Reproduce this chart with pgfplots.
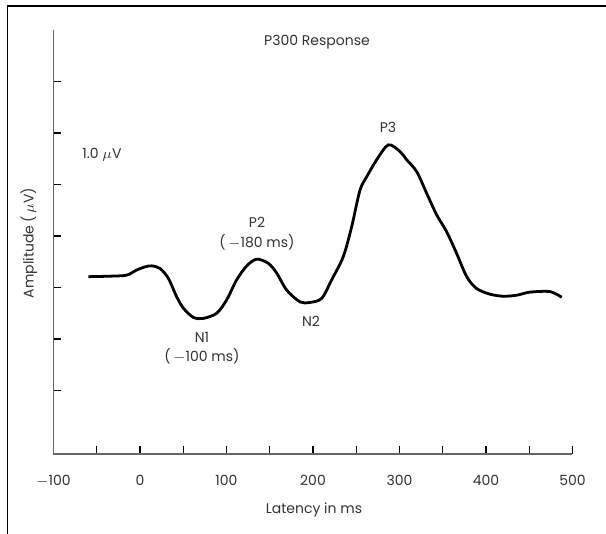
\documentclass[border=0pt]{standalone}
\usepackage{pgfplots}
\pgfplotsset{compat=1.18}
\usepackage{fontspec}
\setmainfont{Poppins}
\definecolor{txt}{HTML}{333333}
\definecolor{axgray}{HTML}{666666}

\begin{document}
\begin{tikzpicture}[font=\fontsize{7}{8}\selectfont]
\useasboundingbox (0,0) rectangle (303pt,267pt);
% frame (left and top only)
\draw[line width=0.7pt,black] (3.6pt,0) -- (3.6pt,264pt) -- (303pt,264pt);

\begin{axis}[
  at={(26.75pt,40pt)},anchor=south west,
  scale only axis,width=259.5pt,height=212pt,
  xmin=-100,xmax=500,ymin=-3.233,ymax=5.0,
  axis lines=left,axis line style={-,axgray,line width=0.7pt},
  xtick={-100,0,...,500},
  xticklabels={$-$100,0,100,200,300,400,500},
  minor xtick={-50,50,...,450},
  ytick={-2,...,4},yticklabels={},
  tick align=inside,
  major tick length=4pt,minor tick length=4pt,
  tick style={black,line width=0.6pt},
  xticklabel style={text=txt,yshift=-7pt},
  clip=false,
]
\addplot[black,line width=1.4pt,smooth,tension=0.5] coordinates {
(-59.8,0.21) (-34.7,0.22) (-15.4,0.24) (-3.8,0.34) (5.8,0.40) (13.5,0.42)
(23.1,0.37) (32.7,0.18) (42.4,-0.18) (50.1,-0.40) (61.6,-0.58) (73.2,-0.60)
(88.7,-0.50) (100.2,-0.24) (111.8,0.15) (123.4,0.42) (134.9,0.55) (148.3,0.47)
(158.0,0.28) (169.6,-0.05) (185.0,-0.28) (196.5,-0.29) (210.1,-0.21) (221.6,0.15)
(235.0,0.60) (244.7,1.18) (254.3,1.89) (262.1,2.15) (273.6,2.48) (287.1,2.77)
(300.6,2.64) (308.3,2.48) (319.9,2.25) (331.4,1.83) (343.0,1.41) (354.6,1.08)
(366.1,0.66) (377.7,0.21) (389.2,-0.02) (404.6,-0.13) (420.0,-0.17) (435.5,-0.15)
(450.9,-0.09) (474.0,-0.08) (487.5,-0.19)
};
\end{axis}

% text labels, positions in reference pixels
\begin{scope}[x=0.5pt,y=-0.5pt,yshift=267pt,every node/.style={text=txt,inner sep=0pt}]
\node at (317,42) {P300 Response};
\node at (388,127) {P3};
\node at (257,222) {P2};
\node at (257,242) {(\,$-$180 ms)};
\node at (311,321) {N2};
\node at (202,337) {N1};
\node at (202,356) {(\,$-$100 ms)};
\node at (102,155) {1.0 $\mu$V};
\node[rotate=90] at (29,243) {Amplitude (\,$\mu$V)};
\node at (314,510) {Latency in ms};
\end{scope}
\end{tikzpicture}
\end{document}
